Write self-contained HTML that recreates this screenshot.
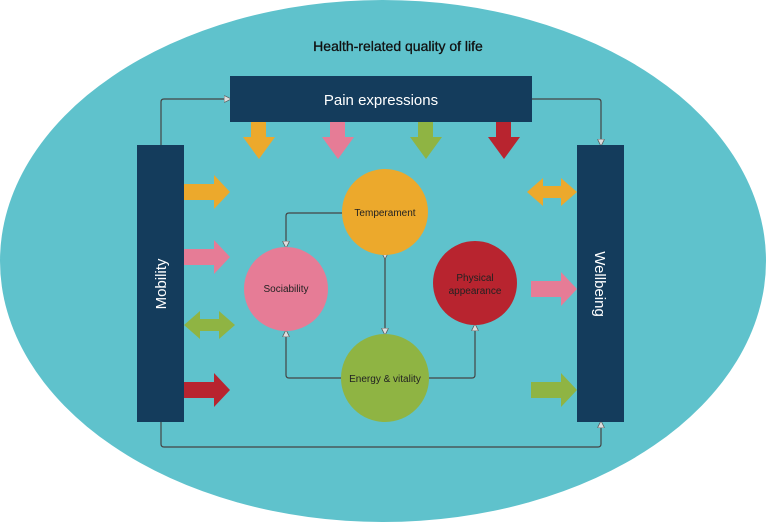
<!DOCTYPE html>
<html><head><style>body{margin:0;background:#fff}svg{display:block}text{font-family:"Liberation Sans",sans-serif}</style></head><body>
<svg width="767" height="523" viewBox="0 0 767 523">
<defs><marker id="a" markerWidth="6" markerHeight="6" refX="5" refY="3" orient="auto"><path d="M0,0L6,3L0,6z" fill="#ddd" stroke="#555" stroke-width="0.6"/></marker></defs>
<ellipse cx="383" cy="261" rx="383" ry="261" fill="#5fc2cc"/>
<text x="398" y="51" font-size="14" text-anchor="middle" fill="#111" stroke="#111" stroke-width="0.3">Health-related quality of life</text>
<g fill="none" stroke="#444" stroke-width="1.2">
<path d="M161,145V102Q161,99 164,99H230" marker-end="url(#a)"/>
<path d="M532,99H598Q601,99 601,102V145" marker-end="url(#a)"/>
<path d="M161,422V444Q161,447 164,447H598Q601,447 601,444V422" marker-end="url(#a)"/>
<path d="M342,213H289Q286,213 286,216V247" marker-end="url(#a)"/>
<path d="M341,378H289Q286,378 286,375V331" marker-end="url(#a)"/>
<path d="M429,378H472Q475,378 475,375V325" marker-end="url(#a)"/>
<path d="M385,258V334" marker-start="url(#a)" marker-end="url(#a)"/>
</g>
<rect x="230" y="76" width="302" height="46" fill="#143c5c"/>
<text x="381" y="105" font-size="15" text-anchor="middle" fill="#fff">Pain expressions</text>
<rect x="137" y="145" width="47" height="277" fill="#143c5c"/>
<text transform="translate(166,284) rotate(-90)" font-size="15" text-anchor="middle" fill="#fff">Mobility</text>
<rect x="577" y="145" width="47" height="277" fill="#143c5c"/>
<text transform="translate(595,284) rotate(90)" font-size="15" text-anchor="middle" fill="#fff">Wellbeing</text>
<g>
<path d="M251,122h15v15h9l-16,22l-16,-22h8z" fill="#eca92c"/>
<path d="M330,122h15v15h9l-16,22l-16,-22h8z" fill="#e67c96"/>
<path d="M418,122h15v15h9l-16,22l-16,-22h8z" fill="#8fb443"/>
<path d="M496,122h15v15h9l-16,22l-16,-22h8z" fill="#b8242f"/>
<path d="M184,184h30v-9l16,17l-16,17v-9h-30z" fill="#eca92c"/>
<path d="M184,249h30v-9l16,17l-16,17v-9h-30z" fill="#e67c96"/>
<path d="M184,325l16,-14v8h19v-8l16,14l-16,14v-8h-19v8z" fill="#8fb443"/>
<path d="M184,382h30v-9l16,17l-16,17v-9h-30z" fill="#b8242f"/>
<path d="M527,192l16,-14v8h18v-8l16,14l-16,14v-8h-18v8z" fill="#eca92c"/>
<path d="M531,281h30v-9l16,17l-16,17v-9h-30z" fill="#e67c96"/>
<path d="M531,382h30v-9l16,17l-16,17v-9h-30z" fill="#8fb443"/>
</g>
<circle cx="385" cy="212" r="43" fill="#eca92c"/>
<text x="385" y="216" font-size="10" text-anchor="middle" fill="#222">Temperament</text>
<circle cx="286" cy="289" r="42" fill="#e67c96"/>
<text x="286" y="292" font-size="10" text-anchor="middle" fill="#222">Sociability</text>
<circle cx="475" cy="283" r="42" fill="#b8242f"/>
<text x="475" y="281" font-size="10" text-anchor="middle" fill="#222">Physical</text>
<text x="475" y="294" font-size="10" text-anchor="middle" fill="#222">appearance</text>
<circle cx="385" cy="378" r="44" fill="#8fb443"/>
<text x="385" y="382" font-size="10" text-anchor="middle" fill="#222">Energy &amp; vitality</text>
</svg>
</body></html>
